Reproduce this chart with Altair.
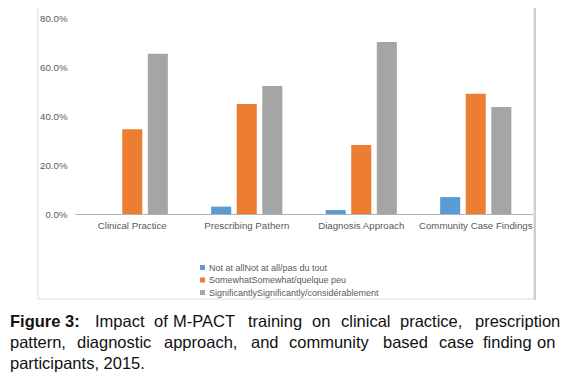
import altair as alt
import pandas as pd

categories = ["Clinical Practice", "Prescribing Pathern", "Diagnosis Approach", "Community Case Findings"]
series = ["Not at allNot at all/pas du tout", "SomewhatSomewhat/quelque peu", "SignificantlySignificantly/considérablement"]
not_at_all = [0.0, 0.030, 0.016, 0.069]
somewhat = [0.346, 0.449, 0.282, 0.491]
significantly = [0.654, 0.522, 0.702, 0.437]
colors = ["#5B9BD5", "#ED7D31", "#A5A5A5"]
y_ticks = [0.0, 0.2, 0.4, 0.6, 0.8]

rows = []
for s, vals in zip(series, [not_at_all, somewhat, significantly]):
    for c, v in zip(categories, vals):
        rows.append({"category": c, "series": s, "value": v})
df = pd.DataFrame(rows)

# caption words and their layout (page pixels)
caption_words = [
    ("Figure 3:", 10, 327, True),
    ("Impact", 95, 327, False), ("of", 154, 327, False), ("M-PACT", 173, 327, False),
    ("training", 248, 327, False), ("on", 312, 327, False), ("clinical", 341, 327, False),
    ("practice,", 400, 327, False), ("prescription", 475, 327, False),
    ("pattern,", 10, 348, False), ("diagnostic", 77, 348, False), ("approach,", 164, 348, False),
    ("and", 251, 348, False), ("community", 289, 348, False), ("based", 383, 348, False),
    ("case", 439, 348, False), ("finding", 483, 348, False), ("on", 537, 348, False),
    ("participants, 2015.", 10, 369, False),
]
OX, OY = 75, 18
cap_df = pd.DataFrame([{"w": w, "x": x - OX, "y": y - OY, "b": b} for w, x, y, b in caption_words])

W, H = 458, 196

bars = alt.Chart(df).mark_bar().encode(
    x=alt.X("category:N", sort=categories, title=None,
            scale=alt.Scale(paddingInner=0.33, paddingOuter=0.165),
            axis=alt.Axis(labelAngle=0, labelFontSize=9.7, labelColor="#595959", labelFont="Liberation Sans",
                          domainColor="#b3b3b3", domainWidth=1, ticks=False, labelPadding=6, grid=False)),
    xOffset=alt.XOffset("series:N", sort=series,
                        scale=alt.Scale(paddingInner=0.216, paddingOuter=0.108)),
    y=alt.Y("value:Q", title=None, scale=alt.Scale(domain=[0, 0.8], nice=False),
            axis=alt.Axis(values=y_ticks, format=".1%", labelFontSize=9.7, labelColor="#595959",
                          labelFont="Liberation Sans", domain=False, ticks=False, grid=False, labelPadding=8)),
    color=alt.Color("series:N", sort=series, scale=alt.Scale(domain=series, range=colors),
                    legend=alt.Legend(title=None, orient="none", legendX=123, legendY=245,
                                      symbolType="square", symbolSize=25, symbolStrokeWidth=0,
                                      labelFontSize=9, labelColor="#595959", labelFont="Liberation Sans",
                                      labelLimit=0, rowPadding=2.5, labelOffset=2, padding=0)),
)

frame = alt.Chart(alt.Data(values=[{}])).mark_rect(fill="transparent", stroke="#d9d9d9", strokeWidth=1).encode(
    x=alt.value(38 - OX), x2=alt.value(534 - OX), y=alt.value(7 - OY), y2=alt.value(299 - OY)
)
right_edge = alt.Chart(alt.Data(values=[{}])).mark_rule(color="#cfcfcf", strokeWidth=2).encode(
    x=alt.value(535 - OX), y=alt.value(7 - OY), y2=alt.value(300 - OY)
)

cap_base = alt.Chart(cap_df).encode(
    x=alt.X("x:Q", scale=None), y=alt.Y("y:Q", scale=None), text="w:N"
)
caption_bold = cap_base.mark_text(align="left", baseline="alphabetic", fontSize=16.5, fontWeight="bold",
                                  font="Liberation Sans", color="#111111").transform_filter("datum.b")
caption_norm = cap_base.mark_text(align="left", baseline="alphabetic", fontSize=16.5,
                                  font="Liberation Sans", color="#111111").transform_filter("!datum.b")

chart = alt.layer(frame, right_edge, bars, caption_bold, caption_norm).properties(
    width=W, height=H,
    autosize=alt.AutoSizeParams(type="none"),
    padding={"left": 67, "top": 10, "right": 29, "bottom": 163},
).configure_view(stroke=None)

chart.save("out.html", embed_options={"renderer": "svg", "actions": False})
